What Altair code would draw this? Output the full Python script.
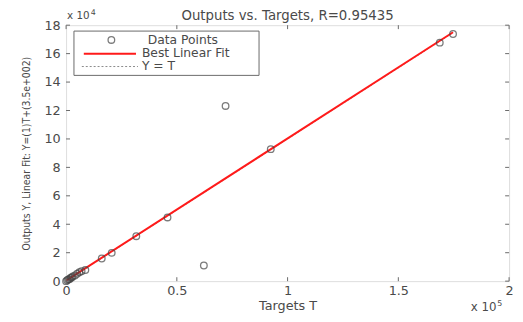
import altair as alt
import pandas as pd

# ---- data ----
targets = [0, 500, 1000, 1500, 2000, 2500, 3000, 4000, 5000, 6000, 7000, 8700,
           16100, 20600, 31700, 45800, 62200, 72000, 92400, 168700, 174700]
outputs = [0, 600, 1200, 1400, 2200, 2600, 3300, 4000, 5200, 6300, 7000, 7800,
           15900, 19900, 31600, 44800, 11000, 123200, 92800, 167700, 173800]
fit_slope = 1.0
fit_intercept = 350.0
r_value = 0.95435
x_ticks = [0, 50000, 100000, 150000, 200000]
y_ticks = [0, 20000, 40000, 60000, 80000, 100000, 120000, 140000, 160000, 180000]
legend_labels = ["Data Points", "Best Linear Fit", "Y = T"]
title_text = f"Outputs vs. Targets, R={r_value}"
x_title = "Targets T"
y_title = "Outputs Y, Linear Fit: Y=(1)T+(3.5e+002)"

W, H = 450, 260
FONT = "DejaVu Sans"
NARROW = "Liberation Sans Narrow, DejaVu Sans Condensed, Roboto Condensed, Arial"
TXT = "#4a4a4a"
FRAME = "#6a6a6a"

pts = pd.DataFrame({"T": targets, "Y": outputs})
tmin, tmax = min(targets), max(targets)
fit = pd.DataFrame({"T": [tmin, tmax],
                    "Y": [fit_slope * tmin + fit_intercept, fit_slope * tmax + fit_intercept]})
ident = pd.DataFrame({"T": [tmin, tmax], "Y": [tmin, tmax]})
xt = pd.DataFrame({"T": x_ticks})
yt = pd.DataFrame({"Y": y_ticks})
one = pd.DataFrame({"a": [0]})

xs = alt.Scale(domain=[0, 200000], nice=False, zero=False)
ys = alt.Scale(domain=[0, 180000], nice=False, zero=False)

X = alt.X("T:Q", scale=xs, axis=alt.Axis(
    values=x_ticks, labelExpr="format(datum.value / 100000, '~g')",
    title=x_title, titleFont=FONT, titleFontSize=13, titleFontWeight="normal",
    titleColor=TXT, titlePadding=2, labelFont=FONT, labelFontSize=13,
    labelColor=TXT, labelPadding=4, domain=False, ticks=False, grid=False,
    labelFlush=False))
Y = alt.Y("Y:Q", scale=ys, axis=alt.Axis(
    values=y_ticks, labelExpr="format(datum.value / 10000, '~g')",
    title=y_title, titleFont=NARROW, titleFontSize=10.5, titleFontWeight="normal",
    titleColor=TXT, titlePadding=13, labelFont=FONT, labelFontSize=13,
    labelColor=TXT, labelPadding=6, domain=False, ticks=False, grid=False,
    labelFlush=False))

ident_line = alt.Chart(ident).mark_line(color="#8a8a8a", strokeDash=[2, 2], strokeWidth=1).encode(x=X, y=Y)
fit_line = alt.Chart(fit).mark_line(color="#ff1a1a", strokeWidth=2).encode(x=X, y=Y)
points = alt.Chart(pts).mark_point(shape="circle", filled=False, size=45,
                                   color="#444444", strokeWidth=1.3).encode(x=X, y=Y)

tb = alt.Chart(xt).mark_rule(color=FRAME).encode(x=X, y=alt.value(H), y2=alt.value(H - 4))
tt = alt.Chart(xt).mark_rule(color=FRAME).encode(x=X, y=alt.value(0), y2=alt.value(4))
tl = alt.Chart(yt).mark_rule(color=FRAME).encode(y=Y, x=alt.value(0), x2=alt.value(4))
tr = alt.Chart(yt).mark_rule(color=FRAME).encode(y=Y, x=alt.value(W - 4), x2=alt.value(W))

leg_box = alt.Chart(one).mark_rect(fill="white", stroke=FRAME, strokeWidth=1).encode(
    x=alt.value(8), x2=alt.value(196), y=alt.value(6), y2=alt.value(51))
leg_pt = alt.Chart(one).mark_point(shape="circle", filled=False, size=45,
                                   color="#444444", strokeWidth=1.3).encode(
    x=alt.value(46), y=alt.value(15))
leg_red = alt.Chart(one).mark_rule(color="#ff1a1a", strokeWidth=2).encode(
    x=alt.value(18), x2=alt.value(71), y=alt.value(29))
leg_dot = alt.Chart(one).mark_rule(color="#8a8a8a", strokeDash=[2, 2], strokeWidth=1).encode(
    x=alt.value(16), x2=alt.value(73), y=alt.value(42))


def txt(s, x, y, size=13, align="left", baseline="middle", font=FONT):
    return alt.Chart(one).mark_text(text=s, font=font, fontSize=size, color=TXT,
                                    align=align, baseline=baseline).encode(
        x=alt.value(x), y=alt.value(y))


leg_t1 = txt(legend_labels[0], 83, 15, 12.5)
leg_t2 = txt(legend_labels[1], 77, 28.5, 12.5)
leg_t3 = txt(legend_labels[2], 77, 42, 12.5)

title = txt(title_text, W / 2, -5, 13.5, align="center", baseline="alphabetic")
exp_y = txt("x 10", 1, -6, 10.5, baseline="alphabetic")
exp_y_sup = txt("4", 25, -10, 8, baseline="alphabetic")
exp_x = txt("x 10", 411, H + 30, 12, baseline="alphabetic")
exp_x_sup = txt("5", 438, H + 25, 8, baseline="alphabetic")

chart = alt.layer(
    ident_line, fit_line, points, tb, tt, tl, tr,
    leg_box, leg_pt, leg_red, leg_dot, leg_t1, leg_t2, leg_t3,
    title, exp_y, exp_y_sup, exp_x, exp_x_sup,
).properties(
    width=W, height=H,
    autosize=alt.AutoSizeParams(type="none"),
    padding={"left": 59, "top": 15, "right": 6, "bottom": 36},
).configure_view(stroke=FRAME, strokeWidth=1).configure(background="white")

chart.save("out.html", embed_options={"renderer": "svg", "actions": False})
